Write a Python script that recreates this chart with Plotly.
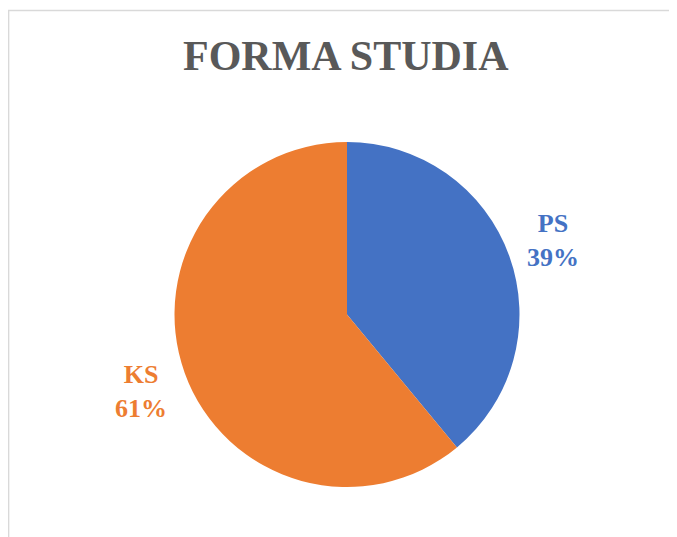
import plotly.graph_objects as go

labels = ["PS", "KS"]
values = [39, 61]
colors = ["#4472C4", "#ED7D31"]

W, H = 677, 537
OFF = 8  # page body margin in the browser
cx, cy, r = 347 - OFF, 314.5 - OFF, 172.5


def px(x):
    return (x - OFF) / W


def py(y):
    return 1 - (y - OFF) / H


fig = go.Figure(go.Pie(
    labels=labels, values=values, sort=False, direction="clockwise", rotation=0,
    marker=dict(colors=colors, line=dict(width=0)), textinfo="none", hoverinfo="label+percent",
    domain=dict(x=[(cx - r) / W, (cx + r) / W], y=[1 - (cy + r) / H, 1 - (cy - r) / H]),
))

# data labels placed like the original (outside, beside each slice)
label_pos = {"PS": (553, 241), "KS": (141, 391)}
total = sum(values)
annotations = []
for lab, val, col in zip(labels, values, colors):
    x, y = label_pos[lab]
    annotations.append(dict(x=px(x), y=py(y), xref="paper", yref="paper", showarrow=False,
                            text="<b>%s<br>%d%%</b>" % (lab, round(val * 100 / total)),
                            font=dict(family="Liberation Serif", size=26, color=col),
                            xanchor="center", yanchor="middle"))
annotations.append(dict(x=px(346), y=py(56), xref="paper", yref="paper", showarrow=False,
                        text="<b>FORMA STUDIA</b>", xanchor="center", yanchor="middle",
                        font=dict(family="Liberation Serif", size=42, color="#595959")))

fig.update_layout(
    width=W, height=H, margin=dict(l=0, r=0, t=0, b=0), showlegend=False,
    paper_bgcolor="white", plot_bgcolor="white", annotations=annotations,
    shapes=[dict(type="rect", xref="paper", yref="paper", x0=0.6 / W, x1=1.05, y0=-0.05, y1=py(10.5),
                 line=dict(color="#D9D9D9", width=1.5), fillcolor="rgba(0,0,0,0)")],
)

fig.write_html("out.html")
